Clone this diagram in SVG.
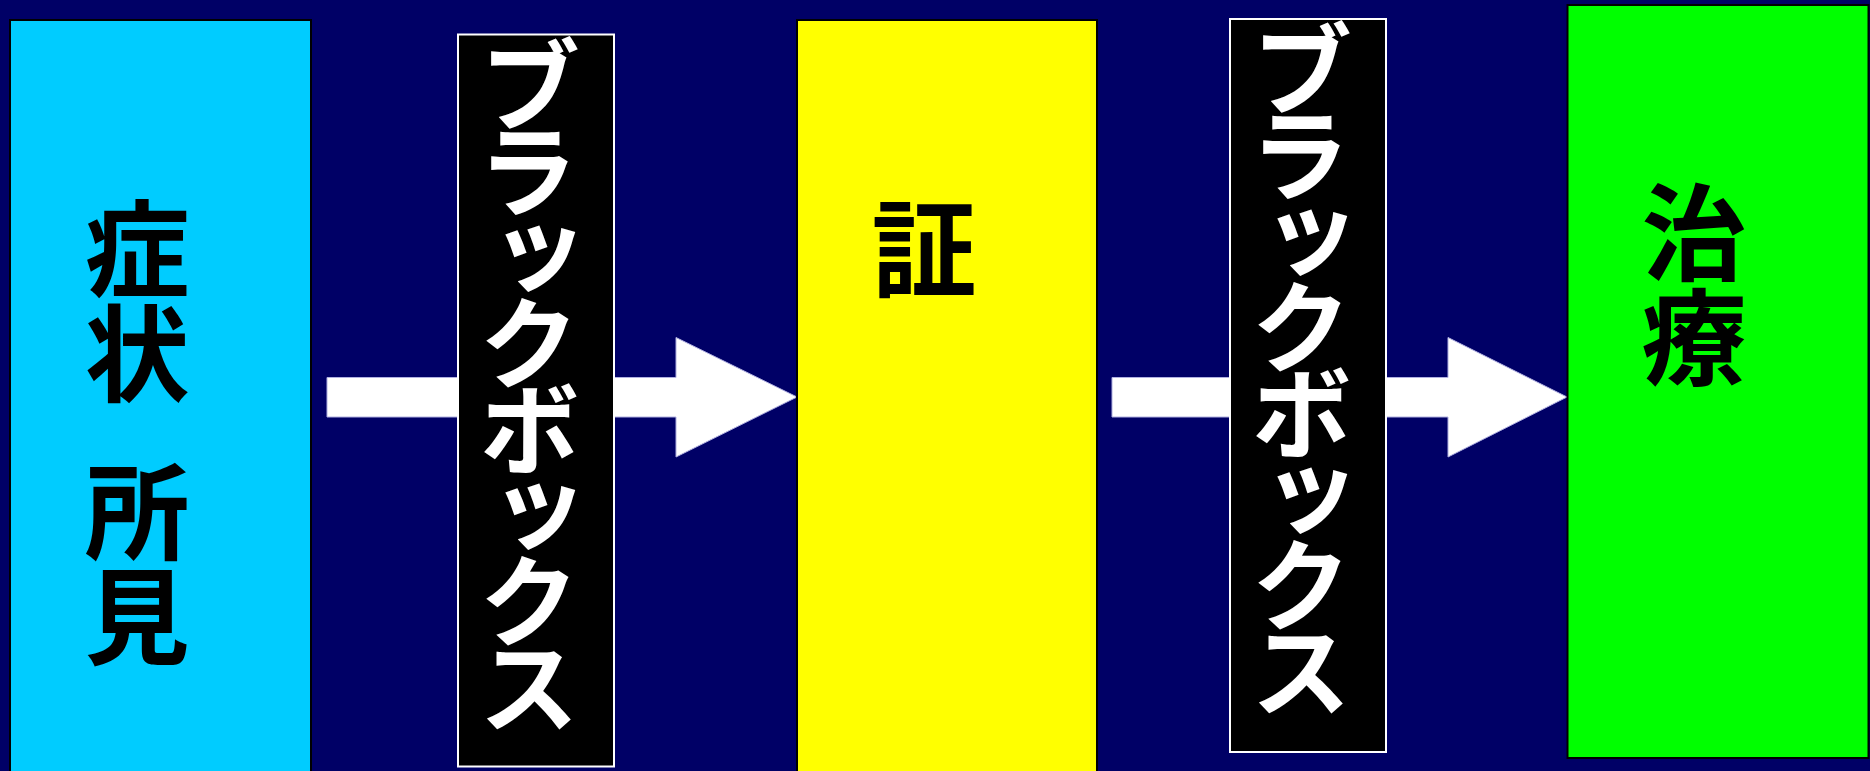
<svg xmlns="http://www.w3.org/2000/svg" width="1870" height="771" viewBox="0 0 1870 771">
<style>
.kanji{font-family:"Noto Sans CJK JP","Noto Sans CJK SC",sans-serif;font-size:105px;font-weight:bold;fill:#000;writing-mode:vertical-rl}
.kata{font-family:"Noto Sans CJK JP","Noto Sans CJK SC",sans-serif;font-size:102px;font-weight:bold;letter-spacing:-16px;fill:#fff;writing-mode:vertical-rl}
.bb{fill:#000;stroke:#fff;stroke-width:2}
.arrow{fill:#fff;stroke:#b0b0e0;stroke-width:1}
</style>
<rect x="0" y="0" width="1870" height="771" fill="#000066"/>
<g id="connectors">
<path class="arrow" d="M327,377.5 H676 V337.5 L797,397 L676,457 V417 H327 Z"/>
<path class="arrow" d="M1112,377.5 H1448 V337.5 L1567,397 L1448,457 V417 H1112 Z"/>
</g>
<g id="symptoms">
<rect x="10" y="20" width="301" height="760" fill="#00ccff" stroke="#000" stroke-width="2"/>
<text class="kanji" x="137" y="195.5">症状</text>
<text class="kanji" x="137" y="458.5">所見</text>
</g>
<g id="blackbox1">
<rect class="bb" x="458" y="34.5" width="156" height="732"/>
<text class="kata" x="529" y="34">ブラックボックス</text>
</g>
<g id="sho">
<rect x="797" y="20" width="300" height="760" fill="#ffff00" stroke="#000" stroke-width="2"/>
<text class="kanji" x="924" y="195.5">証</text>
</g>
<g id="blackbox2">
<rect class="bb" x="1230" y="19" width="156" height="733"/>
<text class="kata" x="1301" y="18">ブラックボックス</text>
</g>
<g id="treatment">
<rect x="1567.5" y="5" width="301" height="753" fill="#00ff00" stroke="#000" stroke-width="2"/>
<text class="kanji" x="1694" y="180">治療</text>
</g>
</svg>
